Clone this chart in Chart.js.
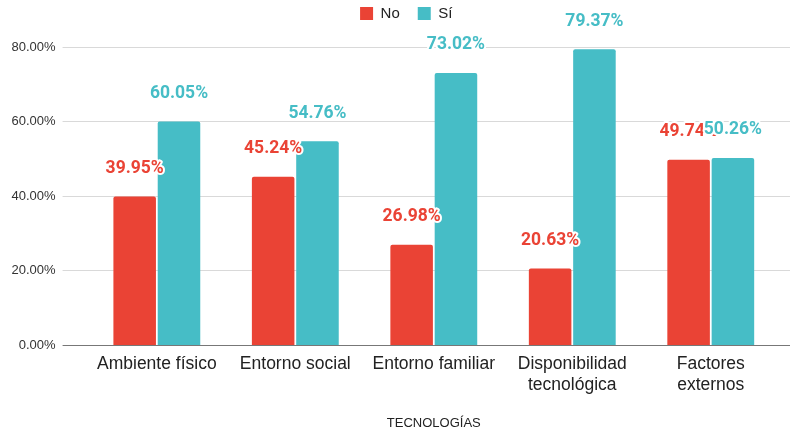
<!DOCTYPE html>
<html>
<head>
<meta charset="utf-8">
<script src="https://cdn.jsdelivr.net/npm/chart.js@4"></script>
<style>
html,body{margin:0;padding:0;background:#fff;}
#wrap{width:792px;height:431px;position:relative;}
</style>
</head>
<body>
<div id="wrap"><canvas id="c" width="792" height="431"></canvas></div>
<script>
const categories = [["Ambiente físico"], ["Entorno social"], ["Entorno familiar"], ["Disponibilidad", "tecnológica"], ["Factores", "externos"]];
const seriesNo = [39.95, 45.24, 26.98, 20.63, 49.74];
const seriesSi = [60.05, 54.76, 73.02, 79.37, 50.26];
const yTicks = [0, 20, 40, 60, 80];
const xTitle = "TECNOLOGÍAS";
const labelNo = "No";
const labelSi = "Sí";

const RED = "#ea4335";
const TEAL = "#46bdc6";
const GRID = "#d9d9d9";
const BASE = "#777";

const valueLabels = {
  id: "valueLabels",
  afterDatasetsDraw(chart) {
    const ctx = chart.ctx;
    ctx.save();
    ctx.font = "bold 17.5px Roboto";
    ctx.textAlign = "center";
    ctx.textBaseline = "middle";
    ctx.lineJoin = "round";
    chart.data.datasets.forEach((ds, di) => {
      const meta = chart.getDatasetMeta(di);
      meta.data.forEach((bar, i) => {
        const txt = ds.data[i].toFixed(2) + "%";
        const y = bar.y - 28;
        ctx.strokeStyle = "#fff";
        ctx.lineWidth = 4;
        ctx.strokeText(txt, bar.x, y);
        ctx.fillStyle = ds.backgroundColor;
        ctx.fillText(txt, bar.x, y);
      });
    });
    ctx.restore();
  }
};

const gridExtend = {
  id: "gridExtend",
  afterLayout(chart) {
    const lg = chart.legend;
    if (lg) {
      lg.left += 14; lg.right += 14;
      lg.top -= 16; lg.bottom -= 16;
    }
  },
  beforeDatasetsDraw(chart) {
    const ctx = chart.ctx;
    const y = chart.scales.y;
    const area = chart.chartArea;
    ctx.save();
    yTicks.forEach(v => {
      const py = Math.round(y.getPixelForValue(v) - 0.5) + 0.5;
      ctx.strokeStyle = v === 0 ? BASE : GRID;
      ctx.lineWidth = 1;
      ctx.beginPath();
      ctx.moveTo(area.right, py);
      ctx.lineTo(790, py);
      ctx.stroke();
    });
    ctx.restore();
  }
};

new Chart(document.getElementById("c"), {
  type: "bar",
  data: {
    labels: categories,
    datasets: [
      { label: labelNo, data: seriesNo, backgroundColor: RED, borderRadius: 2, borderSkipped: "bottom",
        barPercentage: 0.96, categoryPercentage: 0.64 },
      { label: labelSi, data: seriesSi, backgroundColor: TEAL, borderRadius: 2, borderSkipped: "bottom",
        barPercentage: 0.96, categoryPercentage: 0.64 }
    ]
  },
  options: {
    responsive: false,
    animation: false,
    layout: { padding: { left: 4.5, right: 12, top: 4, bottom: 0 } },
    plugins: {
      legend: {
        display: true,
        position: "top",
        labels: {
          boxWidth: 13, boxHeight: 13, padding: 18,
          color: "#222",
          font: { family: "'Liberation Sans', Arial", size: 15 }
        }
      },
      tooltip: { enabled: false }
    },
    scales: {
      x: {
        grid: { display: false, drawTicks: false },
        border: { display: false },
        ticks: {
          color: "#222",
          padding: 8,
          maxRotation: 0,
          font: { family: "'Liberation Sans', Arial", size: 17.5, lineHeight: 1.2 }
        },
        title: {
          display: true,
          text: xTitle,
          color: "#222",
          padding: { top: 12, bottom: 0 },
          font: { family: "'Liberation Sans', Arial", size: 13 }
        }
      },
      y: {
        min: 0, max: 80,
        afterBuildTicks(scale) { scale.ticks = yTicks.map(v => ({ value: v })); },
        grid: {
          color: ctx => ctx.tick && ctx.tick.value === 0 ? BASE : GRID,
          tickLength: 25,
          drawTicks: true
        },
        border: { display: false },
        ticks: {
          color: "#333",
          padding: 7,
          font: { family: "'Liberation Sans', Arial", size: 13 },
          callback: v => v.toFixed(2) + "%"
        }
      }
    }
  },
  plugins: [gridExtend, valueLabels]
});
</script>
</body>
</html>
